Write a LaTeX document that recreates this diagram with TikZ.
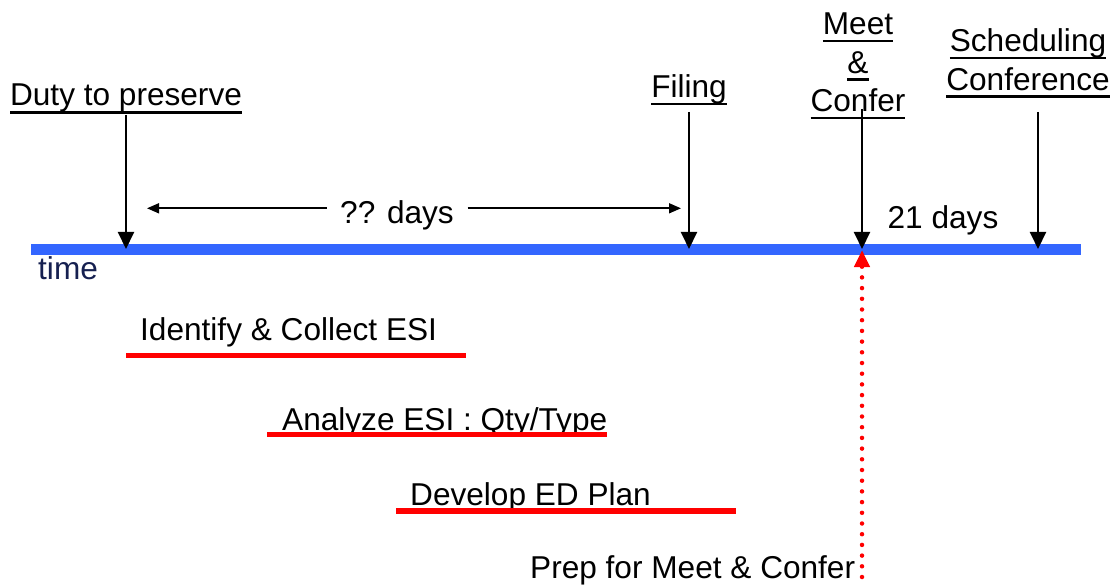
\documentclass[tikz,border=0pt]{standalone}
\usepackage{fontspec}
\setmainfont{Liberation Sans}
\usetikzlibrary{arrows.meta}
\definecolor{tlblue}{RGB}{51,102,255}
\definecolor{tlred}{RGB}{255,0,0}
\definecolor{navy}{RGB}{22,32,80}
\newcommand\ulin[1]{\leavevmode\setbox0\hbox{#1}\rlap{\rule[-7.6pt]{\wd0}{2.4pt}}\box0}
\begin{document}
\begin{tikzpicture}[x=1pt,y=-1pt,
  txt/.style={inner sep=0pt,font=\fontsize{31.6}{38.5}\selectfont},
  evlabel/.style={txt,anchor=base},
  evarrow/.style={line width=2pt,-{Triangle[width=16pt,length=17pt]}},
  spanarrow/.style={line width=1.6pt,-{Triangle[width=10pt,length=12pt]}},
  redbar/.style={line width=5.5pt,tlred},
  redarrow/.style={tlred,line width=4.5pt,line cap=round,dash pattern=on 0pt off 10.7pt,-{Triangle[width=15pt,length=17pt]}}]
\useasboundingbox (0,0) rectangle (1119,588);
% timeline
\draw[tlblue,line width=11pt] (31,249.5) -- (1081,249.5);
\node[txt,anchor=base west,text=navy] (time) at (38,279) {time};
% event labels
\node[evlabel] (duty) at (126,106) {\ulin{Duty to preserve}};
\node[evlabel] (filing) at (689,97.5) {\ulin{Filing}};
\node[txt,anchor=south,align=center] (meet) at (858,119.5) {\ulin{Meet}\\\ulin{\&}\\\ulin{Confer}};
\node[txt,anchor=south,align=center] (sched) at (1028,98) {\ulin{Scheduling}\\\ulin{Conference}};
% event points
\coordinate (t1) at (126,249);
\coordinate (t2) at (689,249);
\coordinate (t3) at (862,249);
\coordinate (t4) at (1038,249);
\coordinate (s1) at (126,115);
\coordinate (s2) at (689,112);
\coordinate (s3) at (862,109);
\coordinate (s4) at (1038,112);
\draw[evarrow] (s1) -- (t1);
\draw[evarrow] (s2) -- (t2);
\draw[evarrow] (s3) -- (t3);
\draw[evarrow] (s4) -- (t4);
% spans
\node[txt,anchor=base,inner xsep=13.5pt] (dd) at (397,224) {?? days};
\coordinate (la) at (147,208.3);
\coordinate (ra) at (681,208.3);
\draw[spanarrow] (dd.west |- la) -- (la);
\draw[spanarrow] (dd.east |- ra) -- (ra);
\node[evlabel] (d21) at (943,229) {21 days};
% tasks
\node[txt,anchor=base west] (ident) at (140,340) {Identify \& Collect ESI};
\draw[redbar] (126,355.5) -- (466,355.5);
\node[txt,anchor=base west] (analyze) at (282,430.5) {Analyze ESI : Qty/Type};
\draw[redbar] (267,434.5) -- (607,434.5);
\node[txt,anchor=base west] (develop) at (410,505.5) {Develop ED Plan};
\draw[redbar] (396,511) -- (736,511);
\node[txt,anchor=base west] (prep) at (530,578) {Prep for Meet \& Confer};
\coordinate (pb) at (862,577);
\coordinate (pt) at (862,250);
\draw[redarrow] (pb) -- (pt);
\end{tikzpicture}
\end{document}
